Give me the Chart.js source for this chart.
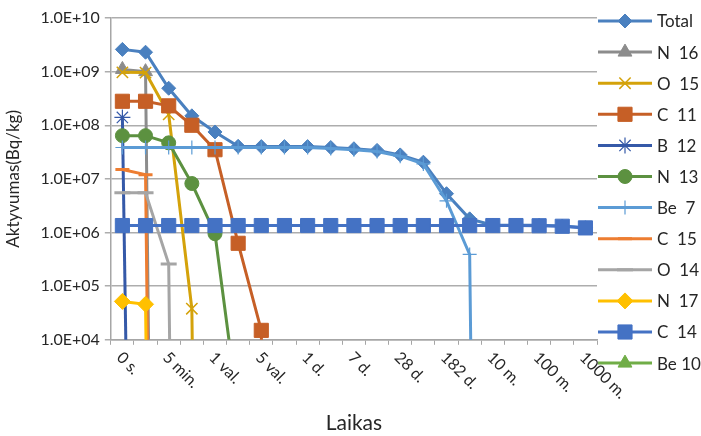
<!DOCTYPE html>
<html lang="lt">
<head>
  <meta charset="UTF-8" />
  <title>Aktyvumas</title>
  <script src="https://cdn.jsdelivr.net/npm/chart.js"></script>
  <style>
    html, body { margin: 0; padding: 0; background: #fff; }
    #wrap { width: 701px; height: 436px; }
  </style>
</head>
<body>
  <div id="wrap"><canvas id="chart"></canvas></div>

  <script>
    // categories (only every second one is labelled on the axis)
    const labels = ['0 s.', '', '5 min.', '', '1 val.', '', '5 val.', '', '1 d.', '', '7 d.', '',
                    '28 d.', '', '182 d.', '', '10 m.', '', '100 m.', '', '1000 m.'];
    const yTicks = [1e4, 1e5, 1e6, 1e7, 1e8, 1e9, 1e10];

    // activity, Bq/kg (null = not plotted, 1e-30 = dropped to ~0)
    const total = [2.6e9, 2.3e9, 4.9e8, 1.5e8, 7.5e7, 4.05e7, 4.0e7, 4.0e7, 4.0e7, 3.85e7, 3.65e7,
                   3.4e7, 2.8e7, 2.05e7, 5.3e6, 1.8e6, 1.37e6, 1.36e6, 1.36e6, 1.32e6, 1.23e6];
    const n16  = [1.1e9, 1.0e9, 1e-30];
    const o15  = [9.7e8, 9.6e8, 1.6e8, 3.8e4, 1e-30];
    const c11  = [2.8e8, 2.8e8, 2.3e8, 1.0e8, 3.5e7, 6.3e5, 1.5e4, 1e-30];
    const b12  = [1.4e8, 1e-20];
    const n13  = [6.4e7, 6.4e7, 4.7e7, 8.2e6, 9.5e5, 5e2];
    const be7  = [3.85e7, 3.85e7, 3.85e7, 3.85e7, 3.85e7, 3.85e7, 3.85e7, 3.85e7, 3.85e7, 3.7e7, 3.5e7,
                  3.25e7, 2.65e7, 1.9e7, 3.9e6, 3.9e5, 1e-30];
    const c15  = [1.5e7, 1.2e7, 1e-30];
    const o14  = [5.5e6, 5.5e6, 2.6e5, 1e-30];
    const n17  = [5.2e4, 4.6e4, 1e-30];
    const c14  = [1.35e6, 1.35e6, 1.35e6, 1.35e6, 1.35e6, 1.35e6, 1.35e6, 1.35e6, 1.35e6, 1.35e6, 1.35e6,
                  1.35e6, 1.35e6, 1.35e6, 1.35e6, 1.35e6, 1.35e6, 1.35e6, 1.34e6, 1.31e6, 1.22e6];
    const be10 = [3e3, 3e3, 3e3, 3e3, 3e3, 3e3, 3e3, 3e3, 3e3, 3e3, 3e3,
                  3e3, 3e3, 3e3, 3e3, 3e3, 3e3, 3e3, 3e3, 3e3, 3e3];

    const FONT = 'Lato, "Open Sans", sans-serif';
    const TEXT = '#262626';

    const series = [
      { label: 'Total', data: total, color: '#4A80BF', style: 'rectRot',  r: 7 },
      { label: 'N  16', data: n16,   color: '#8C8C8C', style: 'triangle', r: 8 },
      { label: 'O  15', data: o15,   color: '#D4A20A', style: 'crossRot', r: 8, bw: 1.5, hollow: true },
      { label: 'C  11', data: c11,   color: '#C65F26', style: 'rect',     r: 10 },
      { label: 'B  12', data: b12,   color: '#3559A8', style: 'star',     r: 8, bw: 1.2, hollow: true },
      { label: 'N  13', data: n13,   color: '#5C9140', style: 'circle',   r: 7 },
      { label: 'Be  7', data: be7,   color: '#5B9BD5', style: 'cross',    r: 7, bw: 1.2, hollow: true },
      { label: 'C  15', data: c15,   color: '#ED7D31', style: 'line',     r: 7, bw: 3, hollow: true },
      { label: 'O  14', data: o14,   color: '#A5A5A5', style: 'line',     r: 8, bw: 3, hollow: true },
      { label: 'N  17', data: n17,   color: '#FFC000', style: 'rectRot',  r: 8 },
      { label: 'C  14', data: c14,   color: '#4472C4', style: 'rect',     r: 10 },
      { label: 'Be 10', data: be10,  color: '#70AD47', style: 'triangle', r: 8 }
    ];

    // x labels are rotated clockwise (text runs down-right), chart.js only rotates the other way
    const xLabelPlugin = {
      id: 'xLabels',
      afterDraw(chart) {
        const { ctx, chartArea } = chart;
        const x = chart.scales.x;
        ctx.save();
        ctx.font = '16px ' + FONT;
        ctx.fillStyle = TEXT;
        ctx.textAlign = 'left';
        ctx.textBaseline = 'middle';
        labels.forEach((t, i) => {
          if (!t) return;
          ctx.save();
          ctx.translate(x.getPixelForValue(i) - 3, chartArea.bottom + 15);
          ctx.rotate(Math.PI / 4);
          ctx.fillText(t, 0, 0);
          ctx.restore();
        });
        ctx.restore();
      }
    };

    // legend: line sample with marker, one row per series
    const legendPlugin = {
      id: 'lineLegend',
      afterDraw(chart) {
        const { ctx } = chart;
        ctx.save();
        ctx.font = '17px ' + FONT;
        ctx.textBaseline = 'middle';
        ctx.textAlign = 'left';
        series.forEach((s, i) => {
          const y = 21 + i * 31.1;
          ctx.strokeStyle = s.color;
          ctx.lineWidth = 3;
          ctx.beginPath();
          ctx.moveTo(598, y);
          ctx.lineTo(652, y);
          ctx.stroke();
          ctx.fillStyle = s.color;
          ctx.lineWidth = s.bw || 1;
          Chart.helpers.drawPoint(ctx, { pointStyle: s.style, radius: s.r, rotation: 0, borderWidth: s.bw || 1 }, 625, y);
          ctx.fillStyle = TEXT;
          ctx.fillText(s.label, 657, y + 1);
        });
        ctx.restore();
      }
    };

    new Chart(document.getElementById('chart'), {
      type: 'line',
      data: {
        labels: labels,
        datasets: series.map((s, i) => ({
          label: s.label,
          data: s.data,
          borderColor: s.color,
          backgroundColor: s.color,
          borderWidth: 3,
          pointStyle: s.style,
          pointRadius: s.r,
          pointBorderWidth: s.bw || 1,
          pointBorderColor: s.color,
          pointBackgroundColor: s.hollow ? 'rgba(0,0,0,0)' : s.color,
          tension: 0,
          spanGaps: false,
          order: -i,
          clip: { left: 14, right: 14, top: 14, bottom: 0 }
        }))
      },
      options: {
        responsive: true,
        maintainAspectRatio: false,
        animation: false,
        events: [],
        layout: { padding: { left: 0, right: 104, top: 18, bottom: 0 } },
        plugins: {
          legend: { display: false },
          tooltip: { enabled: false }
        },
        scales: {
          x: {
            type: 'category',
            offset: true,
            grid: { offset: true, drawOnChartArea: false, drawTicks: true, tickLength: 5, color: '#A6A6A6', lineWidth: 1 },
            border: { color: '#A6A6A6', width: 1.5 },
            ticks: { display: false },
            title: {
              display: true,
              text: 'Laikas',
              color: TEXT,
              font: { family: FONT, size: 21 },
              padding: { top: 66, bottom: 0 }
            }
          },
          y: {
            type: 'logarithmic',
            min: 1e4,
            max: 1e10,
            afterBuildTicks: scale => { scale.ticks = yTicks.map(v => ({ value: v })); },
            grid: { color: '#ADADAD', lineWidth: 1.5, tickLength: 6 },
            border: { color: '#A6A6A6', width: 1.5 },
            ticks: {
              color: TEXT,
              font: { family: FONT, size: 16 },
              padding: 5,
              callback: v => v.toExponential(1).toUpperCase().replace(/E\+(\d)$/, 'E+0$1')
            },
            title: {
              display: true,
              text: 'Aktyvumas(Bq/kg)',
              color: TEXT,
              font: { family: FONT, size: 17 },
              padding: { top: 3, bottom: 12 }
            }
          }
        }
      },
      plugins: [xLabelPlugin, legendPlugin]
    });
  </script>
</body>
</html>
